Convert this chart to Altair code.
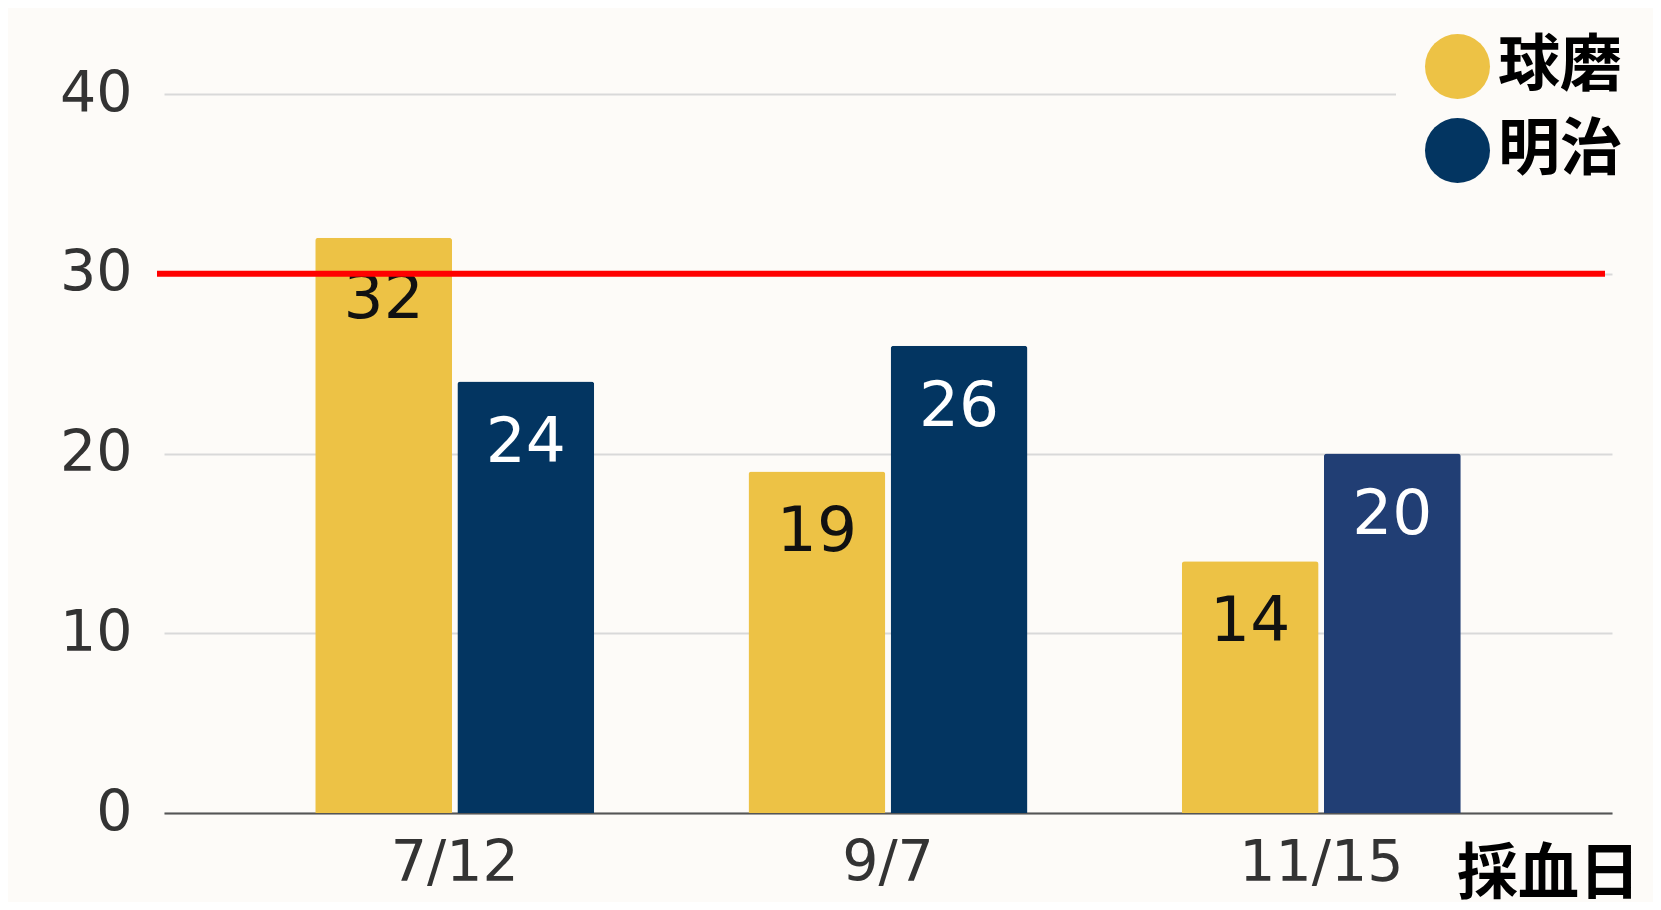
import altair as alt
import pandas as pd

dates = ["7/12", "9/7", "11/15"]
series_names = ["球磨", "明治"]
kuma = [32, 19, 14]
meiji = [24, 26, 20]
meiji_shades = ["明治", "明治", "明治2"]
threshold = 30
x_title = "採血日"

YELLOW = "#edc245"
NAVY = "#033561"
NAVY2 = "#213e74"
BG = "#fdfbf8"

rows = []
for d, k in zip(dates, kuma):
    rows.append({"date": d, "series": "球磨", "value": k, "shade": "球磨"})
for d, m, s in zip(dates, meiji, meiji_shades):
    rows.append({"date": d, "series": "明治", "value": m, "shade": s})
df = pd.DataFrame(rows)

x_enc = alt.X(
    "date:N",
    sort=dates,
    scale=alt.Scale(paddingInner=0.356, paddingOuter=0.349),
    axis=alt.Axis(
        title=x_title,
        titleX=1384, titleY=80, titleAlign="center", titleBaseline="alphabetic",
        titleFontSize=61, titleFontWeight="bold", titleColor="#000000",
        titleFont="Noto Sans CJK JP",
        labelFontSize=57, labelFont="DejaVu Sans", labelColor="#333333",
        labelPadding=22, labelAngle=0, ticks=False,
        domainColor="#555555", domainWidth=2, grid=False,
    ),
)
xoff = alt.XOffset("series:N", sort=series_names,
                   scale=alt.Scale(paddingInner=0.037, paddingOuter=0))
y_enc = alt.Y(
    "value:Q",
    scale=alt.Scale(domain=[0, 40]),
    axis=alt.Axis(
        values=[0, 10, 20, 30, 40], title=None, domain=False, ticks=False,
        labelFontSize=57, labelFont="DejaVu Sans", labelColor="#333333",
        labelPadding=32, gridColor="#d9d9d9", gridWidth=2,
    ),
)

bars = alt.Chart(df).mark_bar(cornerRadiusTopLeft=3, cornerRadiusTopRight=3).encode(
    x=x_enc,
    xOffset=xoff,
    y=y_enc,
    color=alt.Color(
        "shade:N",
        scale=alt.Scale(domain=["球磨", "明治", "明治2"], range=[YELLOW, NAVY, NAVY2]),
        legend=alt.Legend(
            values=series_names, title=None, orient="none",
            legendX=1232, legendY=-89, padding=29, fillColor=BG,
            symbolType="circle", symbolSize=4225, symbolStrokeWidth=0,
            labelFontSize=62, labelFont="Noto Sans CJK JP", labelFontWeight="bold",
            labelColor="#000000", labelOffset=8, rowPadding=19,
        ),
    ),
)

labels = alt.Chart(df).mark_text(
    font="DejaVu Sans", fontSize=63, baseline="alphabetic", align="center", dy=80
).encode(
    x=alt.X("date:N", sort=dates),
    xOffset=alt.XOffset("series:N", sort=series_names),
    y=alt.Y("value:Q"),
    text=alt.Text("value:Q"),
    color=alt.condition(alt.datum.series == "球磨", alt.value("#111111"), alt.value("#ffffff")),
)

rule = alt.Chart(pd.DataFrame({"t": [threshold]})).mark_rule(
    color="#ff0000", strokeWidth=6
).encode(
    y=alt.Y("t:Q"),
    x=alt.value(-7),
    x2=alt.value(1441),
)

chart = alt.layer(bars, labels, rule).properties(
    width=1448,
    height=719,
    autosize=alt.AutoSizeParams(type="none"),
    padding={"left": 156, "top": 86, "right": 41, "bottom": 89},
    background=BG,
).configure_view(stroke=None)

chart.save("out.html", embed_options={"renderer": "svg", "actions": False})
